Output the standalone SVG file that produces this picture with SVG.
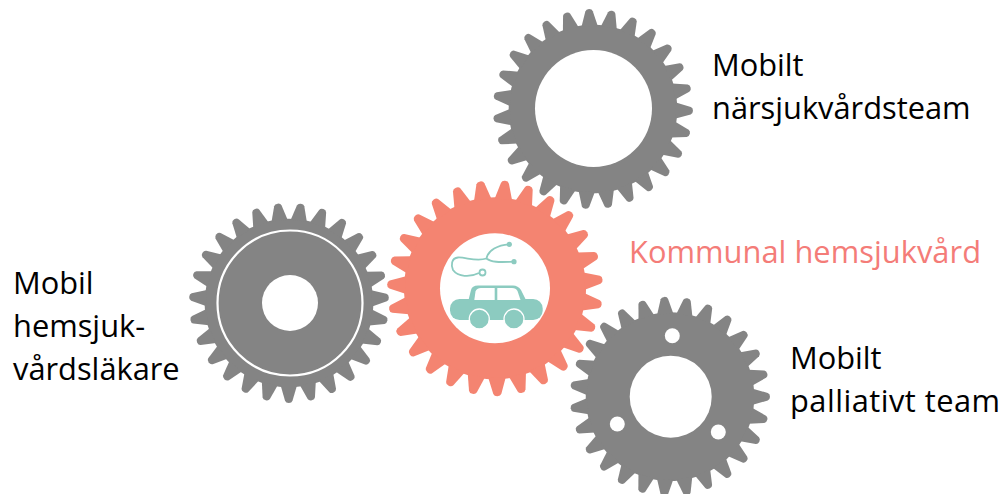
<svg xmlns="http://www.w3.org/2000/svg" xmlns:xlink="http://www.w3.org/1999/xlink" width="1005" height="494" viewBox="0 0 1005 494">
<style>
.g{fill:#848484}.o{fill:#F48471}.h{fill:#fff}
.l{font-family:"Open Sans","Noto Sans","Liberation Sans",sans-serif;font-size:30.8px;fill:#000}
.k{fill:#F47C78}
.t{fill:#8CCBC0}.s{fill:none;stroke:#8CCBC0;stroke-width:1.8}
</style>
<defs>
<path id="t" d="M-8,-82 L-3.7,-96.8 Q-2.9,-99 0,-99 Q2.9,-99 3.7,-96.8 L8,-82 Z"/>
<g id="teeth">
<circle r="83.5"/>
<use href="#t"/><use href="#t" transform="rotate(13.333)"/><use href="#t" transform="rotate(26.667)"/>
<use href="#t" transform="rotate(40)"/><use href="#t" transform="rotate(53.333)"/><use href="#t" transform="rotate(66.667)"/>
<use href="#t" transform="rotate(80)"/><use href="#t" transform="rotate(93.333)"/><use href="#t" transform="rotate(106.667)"/>
<use href="#t" transform="rotate(120)"/><use href="#t" transform="rotate(133.333)"/><use href="#t" transform="rotate(146.667)"/>
<use href="#t" transform="rotate(160)"/><use href="#t" transform="rotate(173.333)"/><use href="#t" transform="rotate(186.667)"/>
<use href="#t" transform="rotate(200)"/><use href="#t" transform="rotate(213.333)"/><use href="#t" transform="rotate(226.667)"/>
<use href="#t" transform="rotate(240)"/><use href="#t" transform="rotate(253.333)"/><use href="#t" transform="rotate(266.667)"/>
<use href="#t" transform="rotate(280)"/><use href="#t" transform="rotate(293.333)"/><use href="#t" transform="rotate(306.667)"/>
<use href="#t" transform="rotate(320)"/><use href="#t" transform="rotate(333.333)"/><use href="#t" transform="rotate(346.667)"/>
</g>
</defs>
<g id="connectors"></g>
<g id="gear-top">
<use href="#teeth" class="g" transform="translate(593,109) rotate(-2.3) scale(1.01)"/>
<circle class="h" cx="593.5" cy="108.5" r="58.5"/>
<text class="l" x="712" y="76">Mobilt</text>
<text class="l" x="712" y="119">närsjukvårdsteam</text>
</g>
<g id="gear-left">
<use href="#teeth" class="g" transform="translate(289,303) rotate(6.8) scale(1.01)"/>
<circle cx="290" cy="303" r="72.5" fill="none" stroke="#fff" stroke-width="2.2"/>
<circle class="h" cx="290" cy="303" r="28"/>
<text class="l" x="13" y="294">Mobil</text>
<text class="l" x="13" y="337">hemsjuk-</text>
<text class="l" x="13" y="380">vårdsläkare</text>
</g>
<g id="gear-right">
<use href="#teeth" class="g" transform="translate(670,396.7) rotate(-3.3) scale(1.01)"/>
<circle class="h" cx="670.7" cy="396.7" r="41"/>
<circle class="h" cx="672.3" cy="335.7" r="7.5"/>
<circle class="h" cx="617.3" cy="424" r="7.5"/>
<circle class="h" cx="718.3" cy="432" r="7.5"/>
<text class="l" x="790" y="369">Mobilt</text>
<text class="l" x="790" y="412" textLength="210">palliativt team</text>
</g>
<g id="gear-center">
<use href="#teeth" class="o" transform="translate(495,288.3) rotate(5.4) scale(1.09)"/>
<circle class="h" cx="495" cy="288.3" r="55"/>
<text class="l k" x="629" y="263" textLength="352">Kommunal hemsjukvård</text>
<g id="stethoscope">
<path class="s" d="M509,244.3 C498,245 488,250 486.5,258.5 C492,263 502,262 514,261.7"/>
<path class="s" d="M486.5,258.5 C476,262 466,257 458,257.5 C451,258 451,266 453,270 C458,277 470,277.5 479,273"/>
<circle class="s" cx="482.5" cy="272.5" r="3"/>
<circle class="t" cx="509.3" cy="244.3" r="2.6"/>
<circle class="t" cx="514" cy="261.7" r="2.6"/>
</g>
<g id="car">
<path class="t" d="M468,302 L471,290 Q472,285.5 478,285.5 L513,285.5 Q518,285.5 521,290 L527,302 Z"/>
<rect class="t" x="450" y="299" width="92.7" height="21" rx="9.5"/>
<path class="h" d="M474.3,300 L475.5,291.5 Q476.5,288 481,288 L494.7,288 L494.7,300 Z"/>
<path class="h" d="M497.3,288 L512,288 Q516,288 517.5,291 L520.5,300 L497.3,300 Z"/>
<circle class="t" cx="479.3" cy="319" r="10" stroke="#fff" stroke-width="1.3"/>
<circle class="t" cx="514" cy="319" r="10" stroke="#fff" stroke-width="1.3"/>
</g>
</g>
</svg>
